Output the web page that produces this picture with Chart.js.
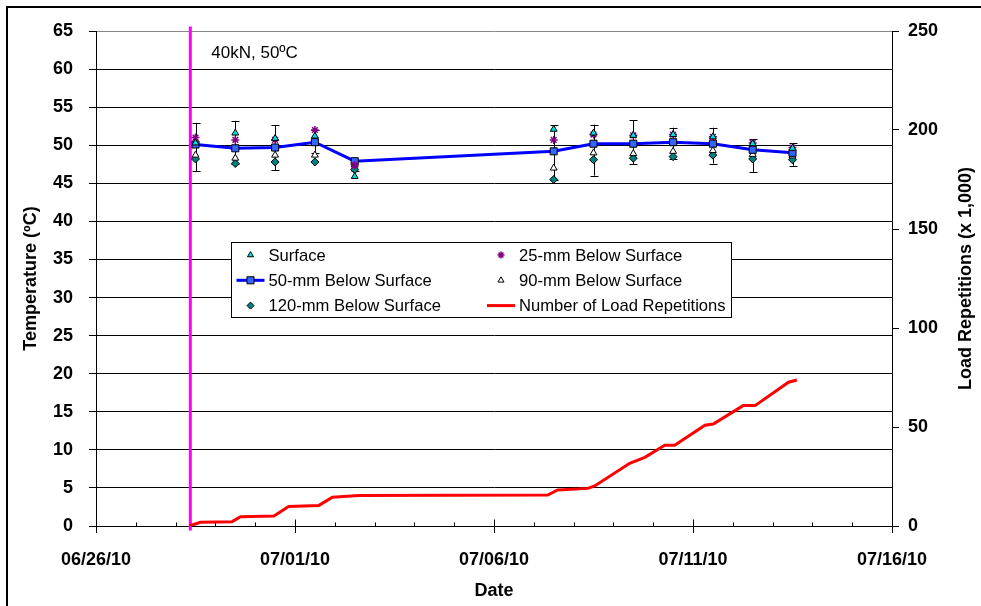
<!DOCTYPE html>
<html>
<head>
<meta charset="utf-8">
<title>Temperature and load repetitions</title>
<script src="https://cdn.jsdelivr.net/npm/chart.js"></script>
<style>
    html, body { margin: 0; padding: 0; background: #fff; overflow: hidden; }
    #wrap { position: relative; width: 981px; height: 606px; }
    #frame { position: absolute; left: 6px; top: 6px; width: 1100px; height: 1100px; border: 2px solid #000; box-sizing: border-box; }
    #chart { position: absolute; left: 0; top: 0; }
</style>
</head>
<body>
<div id="wrap">
    <div id="frame"></div>
    <canvas id="chart" width="981" height="606"></canvas>
</div>
<script>
    // x values are days counted from 06/26/10 00:00
    var xTickLabels = ['06/26/10', '07/01/10', '07/06/10', '07/11/10', '07/16/10'];

    // temperature readings (ºC), one per day
    var tempDays = [2.5, 3.5, 4.5, 5.5, 6.5, 11.5, 12.5, 13.5, 14.5, 15.5, 16.5, 17.5];
    var surface = [50.3, 51.6, 50.9, 51.2, 45.9, 52.1, 51.6, 51.3, 51.4, 51.1, 50.2, 49.6];
    var below25 = [51.0, 50.7, 50.7, 52.0, 47.4, 50.7, 51.4, 51.3, 51.4, 51.1, 50.3, 49.7];
    var below50 = [50.1, 49.6, 49.7, 50.4, 47.9, 49.2, 50.2, 50.2, 50.4, 50.2, 49.4, 49.0];
    var below90 = [48.7, 48.3, 48.7, 48.7, 47.4, 47.0, 49.0, 48.9, 49.2, 49.3, 48.8, 48.6];
    var below120 = [48.2, 47.6, 47.8, 47.8, 46.8, 45.5, 48.1, 48.3, 48.5, 48.7, 48.2, 48.1];

    // error bar ends on the 50-mm series
    var errHigh = [52.95, 53.2, 52.6, 52.0, 48.1, 52.6, 52.7, 53.3, 52.3, 52.3, 50.8, 50.3];
    var errLow = [46.6, 47.6, 46.7, 49.0, 46.6, 45.4, 46.0, 47.5, 48.2, 47.6, 46.5, 47.3];

    // number of load repetitions (x 1,000)
    var loadDays = [2.35, 2.62, 3.42, 3.63, 4.47, 4.84, 5.60, 5.94, 6.61, 11.35, 11.60, 12.36, 12.53,
        13.41, 13.79, 14.29, 14.54, 15.30, 15.51, 16.26, 16.56, 17.40, 17.61];
    var loadReps = [0, 1.9, 2.2, 4.7, 5.1, 9.8, 10.4, 14.5, 15.4, 15.6, 18.2, 19.0, 20.2,
        31.7, 34.7, 40.8, 40.8, 50.9, 51.5, 60.8, 60.8, 72.6, 73.7];

    // start of the test
    var startDay = 2.37;
    var startLabel = '40kN, 50ºC';
    var rightTitle = 'Load Repetitions (x 1,000)';

    var FONT = '"Liberation Sans", Arial, sans-serif';
    Chart.defaults.font.family = FONT;
    Chart.defaults.color = '#000';

    function pts(xs, ys) {
        return xs.map(function(x, i) { return { x: x, y: ys[i] }; });
    }

    function drawMarker(c, style, x, y, r, fill, stroke) {
        c.save();
        c.beginPath();
        if (style === 'triangle') {
            c.moveTo(x, y - r);
            c.lineTo(x + r * 0.866, y + r * 0.5);
            c.lineTo(x - r * 0.866, y + r * 0.5);
            c.closePath();
        } else if (style === 'rect') {
            c.rect(x - r * 0.707, y - r * 0.707, r * 1.414, r * 1.414);
        } else if (style === 'rectRot') {
            c.moveTo(x, y - r);
            c.lineTo(x + r, y);
            c.lineTo(x, y + r);
            c.lineTo(x - r, y);
            c.closePath();
        } else if (style === 'star') {
            c.moveTo(x - r, y); c.lineTo(x + r, y);
            c.moveTo(x, y - r); c.lineTo(x, y + r);
            c.moveTo(x - r * 0.7, y - r * 0.7); c.lineTo(x + r * 0.7, y + r * 0.7);
            c.moveTo(x - r * 0.7, y + r * 0.7); c.lineTo(x + r * 0.7, y - r * 0.7);
        }
        if (style !== 'star') {
            c.fillStyle = fill;
            c.fill();
        }
        c.strokeStyle = stroke;
        c.lineWidth = style === 'star' ? 1.5 : 1;
        c.stroke();
        c.restore();
    }

    var errorBars = {
        id: 'errorBars',
        beforeDatasetsDraw: function(chart) {
            var c = chart.ctx, xs = chart.scales.x, ys = chart.scales.y;
            c.save();
            c.strokeStyle = '#000';
            c.lineWidth = 1;
            tempDays.forEach(function(d, i) {
                var px = Math.round(xs.getPixelForValue(d)) + 0.5;
                var top = ys.getPixelForValue(errHigh[i]);
                var bot = ys.getPixelForValue(errLow[i]);
                c.beginPath();
                c.moveTo(px, top); c.lineTo(px, bot);
                c.moveTo(px - 4, Math.round(top) + 0.5); c.lineTo(px + 4, Math.round(top) + 0.5);
                c.moveTo(px - 4, Math.round(bot) + 0.5); c.lineTo(px + 4, Math.round(bot) + 0.5);
                c.stroke();
            });
            c.restore();
        }
    };

    var extras = {
        id: 'extras',
        afterDraw: function(chart) {
            var c = chart.ctx, xs = chart.scales.x, ys = chart.scales.y;
            var area = chart.chartArea;
            var axisY = Math.round(ys.getPixelForValue(0)) + 0.5;
            c.save();
            // day ticks on the date axis (majors cross the axis)
            c.strokeStyle = '#000';
            c.lineWidth = 1;
            for (var d = 0; d <= 20; d++) {
                var px = Math.round(xs.getPixelForValue(d)) + 0.5;
                c.beginPath();
                c.moveTo(px, axisY);
                c.lineTo(px, axisY - (d % 5 === 0 ? 7 : 4));
                c.stroke();
            }

            // right axis title, reading bottom to top
            c.save();
            c.translate(966, (area.top + area.bottom) / 2);
            c.rotate(-Math.PI / 2);
            c.font = 'bold 18px ' + FONT;
            c.fillStyle = '#000';
            c.textAlign = 'center';
            c.textBaseline = 'middle';
            c.fillText(rightTitle, 0, 0);
            c.restore();

            // label of the start line
            c.font = '17px ' + FONT;
            c.fillStyle = '#000';
            c.textBaseline = 'middle';
            c.fillText(startLabel, xs.getPixelForValue(startDay) + 21, ys.getPixelForValue(62.1));

            // legend box
            var bx = 231.5, by = 242.5, bw = 500, bh = 75;
            c.fillStyle = '#fff';
            c.fillRect(bx, by, bw, bh);
            c.strokeStyle = '#000';
            c.strokeRect(bx, by, bw, bh);
            var items = chart.data.datasets.filter(function(ds) { return ds.label; });
            items.forEach(function(ds, i) {
                var col = i % 2, row = Math.floor(i / 2);
                var mx = bx + 19 + col * 250.5;
                var my = by + 12.5 + row * 25.3;
                if (ds.showLine !== false && ds.borderWidth) {
                    c.beginPath();
                    c.strokeStyle = ds.borderColor;
                    c.lineWidth = 3;
                    c.moveTo(mx - 14, my);
                    c.lineTo(mx + 14, my);
                    c.stroke();
                }
                if (ds.pointRadius) {
                    drawMarker(c, ds.pointStyle, mx, my, ds.pointStyle === 'rect' ? 5 : 3.5,
                        ds.pointBackgroundColor, ds.pointBorderColor);
                }
                c.fillStyle = '#000';
                c.font = '16.6px ' + FONT;
                c.textBaseline = 'middle';
                c.fillText(ds.label, mx + 18, my + 1);
            });
            c.restore();
        }
    };

    var chart = new Chart(document.getElementById('chart'), {
        type: 'scatter',
        data: {
            datasets: [{
                label: 'Surface',
                data: pts(tempDays, surface),
                showLine: false,
                pointStyle: 'triangle',
                pointRadius: 4,
                pointBackgroundColor: '#00E0E0',
                pointBorderColor: '#000',
                pointBorderWidth: 1,
                yAxisID: 'y'
            }, {
                label: '25-mm Below Surface',
                data: pts(tempDays, below25),
                showLine: false,
                pointStyle: 'star',
                pointRadius: 4,
                pointBackgroundColor: '#800080',
                pointBorderColor: '#800080',
                pointBorderWidth: 1.5,
                yAxisID: 'y'
            }, {
                label: '50-mm Below Surface',
                data: pts(tempDays, below50),
                showLine: true,
                borderColor: '#0000FF',
                borderWidth: 3,
                pointStyle: 'rect',
                pointRadius: 5,
                pointBackgroundColor: '#3366FF',
                pointBorderColor: '#000',
                pointBorderWidth: 1,
                yAxisID: 'y'
            }, {
                label: '90-mm Below Surface',
                data: pts(tempDays, below90),
                showLine: false,
                pointStyle: 'triangle',
                pointRadius: 4,
                pointBackgroundColor: '#fff',
                pointBorderColor: '#000',
                pointBorderWidth: 1,
                yAxisID: 'y'
            }, {
                label: '120-mm Below Surface',
                data: pts(tempDays, below120),
                showLine: false,
                pointStyle: 'rectRot',
                pointRadius: 4,
                pointBackgroundColor: '#008080',
                pointBorderColor: '#000',
                pointBorderWidth: 1,
                yAxisID: 'y'
            }, {
                label: 'Number of Load Repetitions',
                data: pts(loadDays, loadReps),
                showLine: true,
                borderColor: '#FF0000',
                borderWidth: 3,
                pointRadius: 0,
                yAxisID: 'y1'
            }, {
                label: '',
                data: [{ x: startDay, y: -0.6 }, { x: startDay, y: 65.6 }],
                showLine: true,
                borderColor: '#FF00FF',
                borderWidth: 3,
                pointRadius: 0,
                clip: false,
                yAxisID: 'y'
            }]
        },
        options: {
            responsive: false,
            animation: false,
            layout: { padding: { top: 31, left: 0, right: 0, bottom: 0 } },
            plugins: {
                legend: { display: false },
                tooltip: { enabled: false }
            },
            scales: {
                x: {
                    type: 'linear',
                    min: 0,
                    max: 20,
                    afterFit: function(s) { s.height = 80; },
                    ticks: {
                        stepSize: 1,
                        autoSkip: false,
                        maxRotation: 0,
                        padding: 16,
                        font: { size: 18, weight: 'bold' },
                        callback: function(v) { return v % 5 === 0 ? xTickLabels[v / 5] : ''; }
                    },
                    grid: {
                        drawOnChartArea: false,
                        tickLength: 7,
                        tickColor: function(c) { return c.tick && c.tick.value % 5 === 0 ? '#000' : 'rgba(0,0,0,0)'; }
                    },
                    border: { color: '#000', width: 1 },
                    title: {
                        display: true,
                        text: 'Date',
                        font: { size: 18, weight: 'bold' },
                        padding: { top: 0, bottom: 4 }
                    }
                },
                y: {
                    position: 'left',
                    min: 0,
                    max: 65,
                    afterFit: function(s) { s.width = 96; },
                    ticks: {
                        stepSize: 5,
                        padding: 16,
                        font: { size: 18, weight: 'bold' }
                    },
                    grid: {
                        color: function(c) { return c.tick && c.tick.value === 65 ? '#888' : '#000'; },
                        lineWidth: 1,
                        tickLength: 7,
                        tickColor: '#000'
                    },
                    border: { color: '#000', width: 1 },
                    title: {
                        display: true,
                        text: 'Temperature (ºC)',
                        font: { size: 18, weight: 'bold' },
                        padding: { top: 20, bottom: 0 }
                    }
                },
                y1: {
                    position: 'right',
                    min: 0,
                    max: 250,
                    afterFit: function(s) { s.width = 89; },
                    ticks: {
                        stepSize: 50,
                        padding: 9,
                        font: { size: 18, weight: 'bold' }
                    },
                    grid: {
                        drawOnChartArea: false,
                        tickLength: 7,
                        tickColor: '#000'
                    },
                    border: { color: '#000', width: 1 },
                    title: { display: false }
                }
            }
        },
        plugins: [errorBars, extras]
    });
</script>
</body>
</html>
